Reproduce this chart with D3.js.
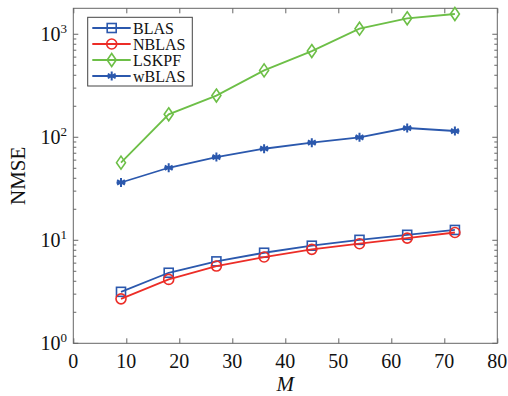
<!DOCTYPE html>
<html><head><meta charset="utf-8">
<script src="https://cdn.jsdelivr.net/npm/d3@7"></script>
<style>body{margin:0;background:#fff}svg{display:block}</style>
</head><body>
<svg id="c" width="508" height="396"></svg>
<script>
const M = [9, 18, 27, 36, 45, 54, 63, 72];
const BLAS = [3.16, 4.84, 6.24, 7.57, 8.86, 10.1, 11.3, 12.6];
const NBLAS = [2.70, 4.17, 5.62, 6.88, 8.17, 9.27, 10.5, 11.9];
const LSKPF = [56.7, 167, 254, 446, 687, 1133, 1429, 1573];
const wBLAS = [36.4, 50.6, 64.3, 77.4, 88.6, 99.8, 123, 115];
const seriesNames = ["BLAS", "NBLAS", "LSKPF", "wBLAS"];
const seriesColors = ["#2b58ad", "#ec2d27", "#6dbf47", "#2b58ad"];
const seriesMarkers = ["square", "circle", "diamond", "asterisk"];
const xTicks = [0, 10, 20, 30, 40, 50, 60, 70, 80];
const yTickExps = [0, 1, 2, 3];

const svg = d3.select("#c");
const L = 73.3, R = 497.3, T = 8.3, B = 343.3;
const x = d3.scaleLinear().domain([0, 80]).range([L, R]);
const y = d3.scaleLog().domain([1, Math.pow(10, 3.252)]).range([B, T]);
const font = "'Liberation Serif', 'Times New Roman', serif";
const axisColor = "#666";

// frame
svg.append("rect").attr("x", L).attr("y", T).attr("width", R - L).attr("height", B - T)
  .attr("fill", "none").attr("stroke", axisColor).attr("stroke-width", 1);

// x ticks (bottom and top, inward)
const gx = svg.append("g").attr("transform", `translate(0,${B})`)
  .call(d3.axisBottom(x).tickValues(xTicks).tickSize(-5).tickFormat(""));
const gxt = svg.append("g").attr("transform", `translate(0,${T})`)
  .call(d3.axisTop(x).tickValues(xTicks).tickSize(-5).tickFormat(""));
[gx, gxt].forEach(g => { g.select(".domain").remove(); g.selectAll("line").attr("stroke", axisColor); });

xTicks.forEach(v => {
  svg.append("text").attr("x", x(v)).attr("y", 368).attr("text-anchor", "middle")
    .attr("font-family", font).attr("font-size", 20).attr("fill", "#111").text(v);
});

// y ticks: major and minor (left and right, inward)
const minor = [];
for (let e = 0; e < 4; e++) for (let k = 2; k <= 9; k++) { const v = k * Math.pow(10, e); if (v <= y.domain()[1]) minor.push(v); }
const major = yTickExps.map(e => Math.pow(10, e));
function yTicks(g, side) {
  const dir = side === "left" ? 1 : -1;
  const x0 = side === "left" ? L : R;
  g.selectAll("line.maj").data(major).join("line")
    .attr("x1", x0).attr("x2", x0 + dir * 5).attr("y1", d => y(d)).attr("y2", d => y(d))
    .attr("stroke", axisColor);
  g.selectAll("line.min").data(minor).join("line").attr("class", "min")
    .attr("x1", x0).attr("x2", x0 + dir * 3).attr("y1", d => y(d)).attr("y2", d => y(d))
    .attr("stroke", axisColor);
}
yTicks(svg.append("g"), "left");
yTicks(svg.append("g"), "right");

yTickExps.forEach(e => {
  const t = svg.append("text").attr("x", 67).attr("y", y(Math.pow(10, e)) + 7)
    .attr("text-anchor", "end").attr("font-family", font).attr("font-size", 20).attr("fill", "#111");
  t.append("tspan").text("10");
  t.append("tspan").attr("dy", -8).attr("font-size", 13).text(e);
});

// axis labels
svg.append("text").attr("transform", `translate(25,${(T + B) / 2}) rotate(-90)`)
  .attr("text-anchor", "middle").attr("font-family", font).attr("font-size", 21).attr("fill", "#111").text("NMSE");
svg.append("text").attr("x", (L + R) / 2).attr("y", 391).attr("text-anchor", "middle")
  .attr("font-family", font).attr("font-size", 21).attr("font-style", "italic").attr("fill", "#111").text("M");

// markers
function drawMarker(g, type, cx, cy, color) {
  if (type === "square") {
    g.append("rect").attr("x", cx - 4.5).attr("y", cy - 4.5).attr("width", 9).attr("height", 9)
      .attr("fill", "none").attr("stroke", color).attr("stroke-width", 1.6);
  } else if (type === "circle") {
    g.append("circle").attr("cx", cx).attr("cy", cy).attr("r", 5)
      .attr("fill", "none").attr("stroke", color).attr("stroke-width", 1.6);
  } else if (type === "diamond") {
    g.append("path").attr("d", `M${cx},${cy - 6.5}L${cx + 4.5},${cy}L${cx},${cy + 6.5}L${cx - 4.5},${cy}Z`)
      .attr("fill", "none").attr("stroke", color).attr("stroke-width", 1.6);
  } else if (type === "asterisk") {
    const r = 4.5;
    let d = "";
    [0, 60, 120].forEach(a => {
      const rad = a * Math.PI / 180 + Math.PI / 2;
      const dx = r * Math.cos(rad), dy = r * Math.sin(rad);
      d += `M${cx - dx},${cy - dy}L${cx + dx},${cy + dy}`;
    });
    d += `M${cx - r},${cy}L${cx + r},${cy}`;
    g.append("path").attr("d", d).attr("stroke", color).attr("stroke-width", 2).attr("fill", "none");
  }
}

const allData = [BLAS, NBLAS, LSKPF, wBLAS];
const line = d3.line().x(d => x(d[0])).y(d => y(d[1]));
const plot = svg.append("g");
allData.forEach((vals, i) => {
  const pts = M.map((m, j) => [m, vals[j]]);
  plot.append("path").attr("d", line(pts)).attr("fill", "none")
    .attr("stroke", seriesColors[i]).attr("stroke-width", 1.8);
  pts.forEach(p => drawMarker(plot, seriesMarkers[i], x(p[0]), y(p[1]), seriesColors[i]));
});

// legend
const lg = svg.append("g");
lg.append("rect").attr("x", 87.7).attr("y", 17.3).attr("width", 104.6).attr("height", 68.7)
  .attr("fill", "#fff").attr("stroke", "#444").attr("stroke-width", 1);
const ly = [28, 44, 60, 76];
seriesNames.forEach((n, i) => {
  lg.append("line").attr("x1", 92.3).attr("x2", 130.7).attr("y1", ly[i]).attr("y2", ly[i])
    .attr("stroke", seriesColors[i]).attr("stroke-width", 1.8);
  drawMarker(lg, seriesMarkers[i], 111.7, ly[i], seriesColors[i]);
  lg.append("text").attr("x", 133).attr("y", ly[i] + 5.5).attr("font-family", font)
    .attr("font-size", 16).attr("fill", "#111").text(n);
});
</script>
</body></html>
